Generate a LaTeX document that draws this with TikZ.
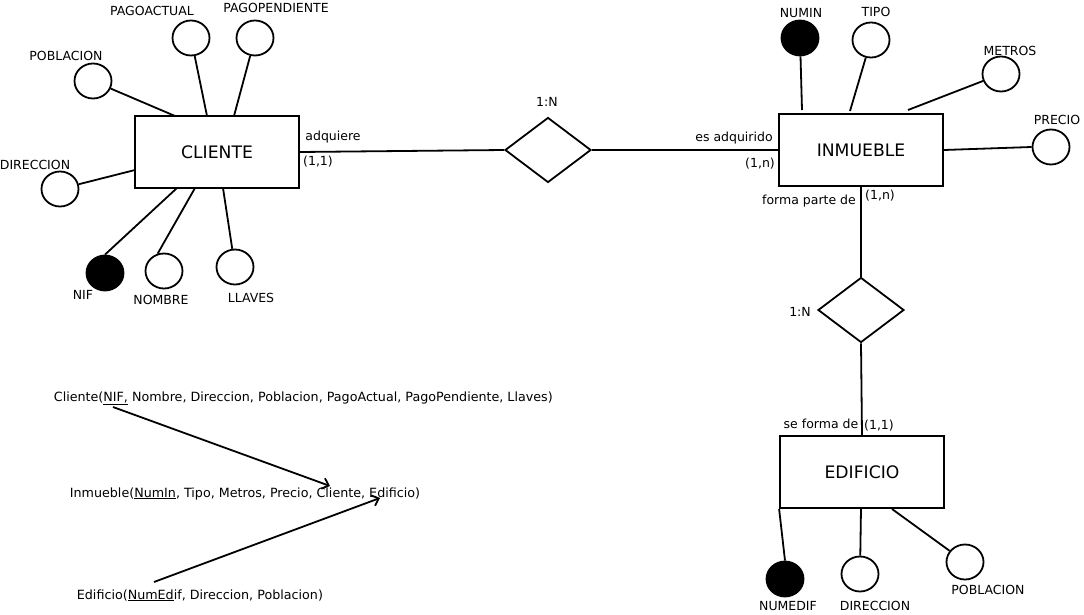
\documentclass[tikz,border=0pt]{standalone}
\usepackage{fontspec}
\setmainfont{DejaVu Sans}
\usetikzlibrary{shapes.geometric,arrows.meta}
\begin{document}
\begin{tikzpicture}[x=1pt,y=-1pt,line width=1.8pt,
  entity/.style={draw,rectangle,minimum width=164pt,minimum height=72pt,inner sep=0pt,font=\fontsize{17.2}{19}\selectfont},
  attr/.style={draw,ellipse,minimum width=37pt,minimum height=35pt,inner sep=0pt},
  keyattr/.style={attr,fill=black},
  rel/.style={draw,diamond,aspect=1.32,minimum width=86pt,minimum height=65pt,inner sep=0pt},
  lbl/.style={font=\fontsize{12.5}{14}\selectfont,inner sep=0pt},
  reltxt/.style={font=\fontsize{12.7}{14}\selectfont,inner sep=0pt,anchor=base west},
  fk/.style={-{Straight Barb[length=6pt,width=11pt]},line width=1.8pt}]
\useasboundingbox (0,0) rectangle (1084,615);
% ---- CLIENTE ----
\node[entity] (cliente) at (217,152) {CLIENTE};
\node[attr] (pagoact) at (191,38) {};
\node[attr] (pagopen) at (255,38) {};
\node[attr] (pobl) at (93,81) {};
\node[attr] (dir) at (60,189) {};
\node[keyattr] (nif) at (105,273) {};
\node[attr] (nombre) at (164,271) {};
\node[attr] (llaves) at (235,267) {};
\node[lbl] at (152,11) {PAGOACTUAL};
\node[lbl] at (276,8) {PAGOPENDIENTE};
\node[lbl] at (66,56) {POBLACION};
\node[lbl] at (35,165) {DIRECCION};
\node[lbl] at (83,295) {NIF};
\node[lbl] at (161,300) {NOMBRE};
\node[lbl] at (251,298) {LLAVES};
\coordinate (c1) at (207,116);
\coordinate (c2) at (234,116);
\coordinate (c3) at (175,116);
\coordinate (c4) at (135,170);
\coordinate (c5) at (177,188);
\coordinate (c6) at (195,188);
\coordinate (c7) at (223,188);
\draw (pagoact) -- (c1);
\draw (pagopen) -- (c2);
\draw (pobl) -- (c3);
\draw (dir) -- (c4);
\draw (nif.north) -- (c5);
\draw (nombre.110) -- (c6);
\draw (llaves) -- (c7);
% ---- relationship 1 ----
\node[rel] (r1) at (548,150) {};
\node[lbl] at (547,102) {1:N};
\draw (cliente.east) -- (r1.west);
\node[lbl] at (333,137) {adquiere};
\node[lbl] at (318,162) {(1,1)};
% ---- INMUEBLE ----
\node[entity] (inmueble) at (861,150) {INMUEBLE};
\draw (r1.east) -- (inmueble.west);
\node[lbl] at (734,138) {es adquirido};
\node[lbl] at (760,164) {(1,n)};
\node[keyattr] (numin) at (800,38) {};
\node[attr] (tipo) at (871,40) {};
\node[attr] (metros) at (1001,74) {};
\node[attr] (precio) at (1051,147) {};
\node[lbl] at (801,13) {NUMIN};
\node[lbl] at (876,12) {TIPO};
\node[lbl] at (1010,51) {METROS};
\node[lbl] at (1057,120) {PRECIO};
\coordinate (i1) at (802,110);
\coordinate (i2) at (850,111);
\coordinate (i3) at (908,110);
\draw (numin) -- (i1);
\draw (tipo) -- (i2);
\draw (metros) -- (i3);
\draw (inmueble.east) -- (precio.west);
% ---- relationship 2 ----
\node[rel] (r2) at (861,310) {};
\node[lbl] at (800,312) {1:N};
\draw (inmueble.south) -- (r2.north);
\node[lbl] at (809,201) {forma parte de};
\node[lbl] at (880,196) {(1,n)};
% ---- EDIFICIO ----
\node[entity] (edificio) at (862,472) {EDIFICIO};
\draw (r2.south) -- (edificio.north);
\node[lbl] at (821,424) {se forma de};
\node[lbl] at (879,426) {(1,1)};
\node[keyattr] (numedif) at (785,579) {};
\node[attr] (dired) at (860,574) {};
\node[attr] (pobed) at (965,562) {};
\node[lbl] at (788,606) {NUMEDIF};
\node[lbl] at (875,606) {DIRECCION};
\node[lbl] at (988,590) {POBLACION};
\coordinate (e2) at (861,508);
\coordinate (e3) at (892,509);
\draw (edificio.south west) -- (numedif.north);
\draw (dired) -- (e2);
\draw (pobed) -- (e3);
% ---- relational schema ----
\node[reltxt] (tcli) at (53,401) {Cliente(\underline{NIF,} Nombre, Direccion, Poblacion, PagoActual, PagoPendiente, Llaves)};
\node[reltxt] (tinm) at (69,497) {Inmueble(\underline{NumIn}, Tipo, Metros, Precio, Cliente, Edificio)};
\node[reltxt] (tedi) at (76,599) {Edificio(\underline{NumEd}if, Direccion, Poblacion)};
\coordinate (a1s) at (113,407);
\coordinate (a1e) at (330,486);
\coordinate (a2s) at (154,582);
\coordinate (a2e) at (380,498);
\draw[fk] (a1s) -- (a1e);
\draw[fk] (a2s) -- (a2e);
\end{tikzpicture}
\end{document}
